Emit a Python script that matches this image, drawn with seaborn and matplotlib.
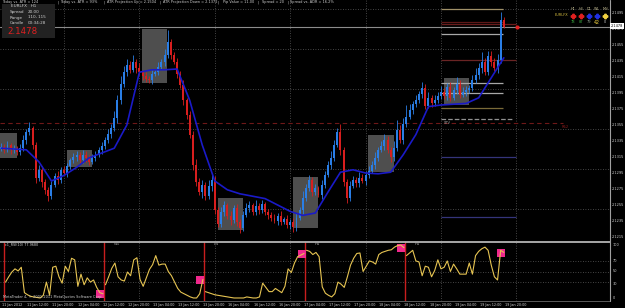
import numpy as np
import matplotlib
matplotlib.use("Agg")
import matplotlib.pyplot as plt
from matplotlib.patches import Rectangle
import seaborn as sns

# ---- data (prices stored as pips above BASE) ----
BASE = 2.12

first_open = 125
close_pips = [
    128, 124, 130, 124, 126, 121, 126, 136, 146, 151,
    130, 89, 99, 84, 74, 66, 80, 91, 86, 99,
    95, 104, 111, 115, 118, 111, 118, 114, 109, 114,
    118, 124, 129, 136, 144, 151, 164, 186, 206, 221,
    230, 224, 234, 226, 221, 216, 212, 211, 219, 221,
    228, 234, 243, 259, 243, 234, 219, 205, 186, 168,
    143, 105, 84, 71, 80, 66, 79, 86, 49, 31,
    46, 55, 41, 36, 51, 34, 26, 43, 51, 55,
    46, 54, 49, 56, 46, 43, 39, 35, 41, 34,
    37, 30, 34, 27, 39, 49, 64, 76, 86, 71,
    76, 68, 80, 93, 105, 114, 130, 146, 124, 84,
    64, 79, 86, 82, 89, 85, 93, 98, 105, 114,
    124, 129, 136, 124, 115, 126, 149, 136, 156, 165,
    174, 181, 186, 194, 201, 179, 189, 183, 186, 191,
    196, 191, 202, 189, 199, 206, 193, 196, 199, 201,
    211, 218, 226, 234, 221, 241, 234, 226, 236, 286,
    278,
]
wick_up = [
    4, 3, 5, 3, 4, 3, 5, 6, 4, 8,
    3, 4, 6, 5, 4, 3, 5, 4, 6, 3,
    5, 4, 3, 5, 4, 3, 6, 4, 3, 5,
    4, 3, 5, 4, 6, 5, 8, 6, 10, 8,
    7, 5, 9, 4, 6, 3, 5, 4, 5, 3,
    6, 4, 7, 15, 4, 3, 5, 4, 6, 3,
    5, 4, 8, 5, 6, 4, 7, 9, 5, 4,
    6, 5, 3, 6, 4, 5, 3, 4, 6, 5,
    3, 7, 4, 5, 3, 4, 3, 5, 4, 6,
    3, 5, 4, 5, 6, 4, 8, 5, 7, 4,
    5, 3, 6, 4, 5, 8, 6, 5, 10, 4,
    3, 6, 5, 4, 7, 5, 4, 6, 5, 7,
    4, 6, 8, 5, 4, 9, 12, 6, 8, 15,
    7, 4, 6, 4, 8, 5, 7, 4, 6, 5,
    8, 5, 6, 7, 4, 9, 5, 6, 5, 4,
    6, 8, 6, 12, 5, 7, 6, 5, 8, 10,
    4,
]
wick_dn = [
    3, 4, 3, 5, 4, 3, 4, 3, 5, 4,
    5, 6, 4, 7, 5, 6, 4, 3, 5, 4,
    3, 5, 4, 3, 5, 4, 3, 5, 4, 3,
    4, 3, 5, 4, 3, 5, 4, 6, 5, 4,
    5, 4, 3, 6, 4, 5, 3, 4, 5, 3,
    4, 3, 5, 4, 6, 3, 5, 4, 6, 5,
    4, 6, 5, 4, 7, 5, 4, 6, 5, 4,
    3, 5, 4, 6, 3, 5, 6, 4, 3, 5,
    4, 3, 5, 4, 3, 5, 4, 3, 5, 4,
    3, 4, 5, 6, 4, 3, 5, 4, 3, 5,
    4, 3, 5, 4, 3, 5, 4, 3, 6, 5,
    7, 4, 3, 5, 4, 3, 5, 4, 3, 5,
    4, 3, 5, 4, 6, 5, 4, 3, 5, 4,
    3, 5, 4, 3, 5, 4, 3, 5, 4, 3,
    4, 3, 5, 4, 3, 5, 4, 3, 5, 4,
    3, 4, 5, 6, 4, 3, 5, 4, 6, 3,
    2,
]

# smoothed moving average, one value every 4 bars
ma_bars = [0, 4, 8, 12, 16, 20, 24, 28, 32, 36, 40, 44, 48, 52, 56, 60, 64, 68, 72, 76,
           80, 84, 88, 92, 96, 100, 104, 108, 112, 116, 120, 124, 128, 132, 136, 140,
           144, 148, 152, 156, 160]
ma_pips = [126, 125, 124, 109, 85, 92, 102, 114, 120, 126, 155, 221, 224, 224, 225, 186,
           130, 85, 74, 69, 66, 63, 55, 47, 42, 45, 71, 96, 99, 95, 94, 96, 118, 143,
           178, 180, 181, 182, 189, 214, 239]

# session boxes (first bar, high, low)
box_start = [-3, 21, 45, 69, 93, 117, 141]
box_top = [145, 124, 275, 64, 90, 143, 214]
box_bot = [114, 103, 207, 24, 26, 96, 180]

# levels on the right side
level_pips = [300, 284, 281, 269, 236, 207, 195, 176, 162, 115, 40]
bid_pips = 278
pivot_pips = 157

day_bars = [20, 44, 68, 92, 116, 140, 164]
time_labels = ["11 Jan 2012", "11 Jan 12:00", "11 Jan 20:00", "12 Jan 04:00", "12 Jan 12:00",
               "12 Jan 20:00", "13 Jan 04:00", "13 Jan 12:00", "13 Jan 20:00", "16 Jan 04:00",
               "16 Jan 12:00", "16 Jan 20:00", "17 Jan 04:00", "17 Jan 12:00", "17 Jan 20:00",
               "18 Jan 04:00", "18 Jan 12:00", "18 Jan 20:00", "19 Jan 04:00", "19 Jan 12:00",
               "19 Jan 20:00"]

# multi-timeframe oscillator, one block per timeframe
tf_names = ["MN", "W1", "D1", "H4", "H1"]
osc_mn = [30, 40, 49, 55, 51, 58, 10, 6, 3, 2, 1, 0, 5, 30, 5, 58,
          60, 40, 28, 60, 50, 75, 72, 22, 45, 25, 38, 30, 34, 20, 10, 8]
osc_w1 = [25, 40, 56, 66, 40, 34, 32, 49, 42, 72, 76, 35, 22, 38, 54, 63,
          80, 62, 64, 64, 50, 42, 30, 18, 11, 8, 5, 2, 0, 0, 8, 35]
osc_d1 = [12, 10, 8, 6, 5, 4, 3, 2, 1, 0, 0, 0, 0, 2, 1, 0,
          0, 2, 28, 20, 12, 12, 18, 14, 10, 22, 55, 48, 66, 78, 81, 84]
osc_h4 = [90, 88, 82, 86, 78, 21, 9, 5, 2, 8, 30, 26, 20, 40, 62, 75,
          84, 85, 50, 60, 70, 68, 64, 82, 86, 88, 90, 91, 96, 99, 100, 95]
osc_h1 = [80, 85, 90, 70, 68, 42, 60, 58, 40, 52, 72, 55, 58, 70, 50, 64,
          55, 45, 45, 45, 66, 45, 80, 88, 93, 96, 90, 62, 40, 34, 90, 86]
seg_edges = [0.89, 32.7, 64.5, 96.7, 128.5, 160.3]

# ---- style ----
W, H = 625, 308
BULL, BEAR = "#2a7ee6", "#d81e1e"
GRID = "#5c5c5c"
TXT = "#d0d0d0"

sns.set_theme(style="dark", rc={"axes.facecolor": "black", "figure.facecolor": "black"})
plt.rcParams["font.family"] = ["DejaVu Sans"]

fig = plt.figure(figsize=(W / 100, H / 100), dpi=100, facecolor="black")
ax = fig.add_axes([0, (H - 241) / H, 610 / W, 241 / H])
axp = fig.add_axes([0, 7 / H, 610 / W, 59 / H])

def P(v):
    return BASE + np.asarray(v, dtype=float) / 1e4

def fx(px):
    return px / W

def fy(py):
    return 1 - py / H

XL = (-0.38, 193.8)

for a in (ax, axp):
    a.set_facecolor("black")
    a.set_xlim(*XL)
    a.grid(False)
    for s in a.spines.values():
        s.set_visible(False)
    a.set_xticks([])
    a.set_yticks([])
    for b in day_bars:
        a.axvline(b, color=GRID, lw=0.6, ls=(0, (1, 2)), zorder=0)

# main chart
ax.set_ylim(P(10), P(311.25))
for g in [50, 100, 150, 200, 250, 300]:
    ax.axhline(P(g), color=GRID, lw=0.6, ls=(0, (1, 2)), zorder=0)

for s, t, b in zip(box_start, box_top, box_bot):
    ax.add_patch(Rectangle((s - 0.1, P(b)), 8, P(t) - P(b), facecolor="#4e4e4e",
                           edgecolor="none", zorder=1))

c = np.array(close_pips, dtype=float)
o = np.concatenate([[first_open], c[:-1]])
hi = np.maximum(o, c) + np.array(wick_up)
lo = np.minimum(o, c) - np.array(wick_dn)
xb = np.arange(len(c))
cols = np.where(c >= o, BULL, BEAR)
ax.vlines(xb, P(lo), P(hi), colors=cols, lw=0.6, zorder=3)
ax.bar(xb, np.maximum(np.abs(c - o), 0.8) / 1e4, bottom=P(np.minimum(o, c)), width=0.62,
       color=cols, linewidth=0, zorder=3)

sns.lineplot(x=ma_bars, y=P(ma_pips), ax=ax, color="#1a1ac8", linewidth=1.2, zorder=4,
             legend=False)
ax.set_xlabel("")
ax.set_ylabel("")

# right-side levels
lvl_style = [("#a09068", 159.7, "-"), ("#5e1818", 159.7, "-"), ("#6a1c1c", 163.9, "-"),
             ("#a8a8a8", 159.7, "-"), ("#6a2424", 163.9, "-"), ("#a8a8a8", 159.7, "-"),
             ("#a8a8a8", 159.7, "-"), ("#7a6a38", 159.7, "-"), ("#909090", 162.9, "--"),
             ("#34347a", 163.9, "-"), ("#34347a", 163.9, "-")]
for v, (col, end, ls) in zip(level_pips, lvl_style):
    ax.hlines(P(v), 140, end, colors=col, lw=0.9, linestyles=ls, zorder=2)
ax.axhline(P(bid_pips), color="#8c8c8c", lw=0.8, zorder=2)
ax.hlines(P(pivot_pips), XL[0], 178.8, colors="#6e1818", lw=0.8, linestyles=(0, (4, 3)), zorder=2)
ax.text(141, P(level_pips[8] - 2), "STV", color="#a0a0a0", fontsize=2.6, va="top")
ax.text(178.4, P(pivot_pips - 1.5), "R52", color="#8b1a1a", fontsize=2.6, va="top")
ax.scatter([164.2], [P(bid_pips)], marker="o", s=4, color="#e02020", zorder=5)

# price scale on the right
for v in range(295, 10, -20):
    fig.text(fx(612), fy((311.25 - v) / 1.25), f"{BASE + v / 1e4:.4f}", color=TXT,
             fontsize=2.5, va="center")
fig.text(fx(611), fy(26), f"{BASE + bid_pips / 1e4:.4f}", color="black", fontsize=2.5,
         va="center", bbox=dict(boxstyle="square,pad=0.15", fc="white", ec="none"))
fig.add_artist(plt.Line2D([fx(610), fx(610)], [fy(0), fy(301)], color="#a0a0a0", lw=0.8))

# indicator panel
axp.set_ylim(-5.7, 105.7)
for g in [30, 50, 70]:
    axp.axhline(g, color=GRID, lw=0.6, ls=(0, (1, 2)), zorder=0)
axp.spines["top"].set_visible(True)
axp.spines["top"].set_color("#b4b4b4")
axp.spines["top"].set_linewidth(1.3)
axp.spines["bottom"].set_visible(True)
axp.spines["bottom"].set_color("#6a6a6a")
axp.spines["bottom"].set_linewidth(0.6)

for k, vals in enumerate([osc_mn, osc_w1, osc_d1, osc_h4, osc_h1]):
    xs = np.linspace(seg_edges[k] + 0.5, seg_edges[k + 1] - 0.3, len(vals))
    axp.axvline(seg_edges[k], color="#c81e1e", lw=1.0, zorder=1)
    axp.scatter([xs[-1] - 0.8], [vals[-1] - 1], marker="s", s=30, color="#f0288c",
                linewidths=0, zorder=2)
    sns.lineplot(x=xs, y=vals, ax=axp, color="#e6c452", linewidth=0.8, zorder=3, legend=False)
    if k > 0:
        axp.text(seg_edges[k] + 3.2, 101, tf_names[k], color="#a8a8a8", fontsize=2.7,
                 va="center")
axp.set_xlabel("")
axp.set_ylabel("")

axp.text(1.2, 101, "c1_RSI(10) 77.9680", color=TXT, fontsize=2.4, va="center")
axp.text(0.6, 2, "MetaTrader 4, \u00a9 2001-2011 MetaQuotes Software Corp.", color=TXT,
         fontsize=2.5, va="center", zorder=4)

for v, yp in zip([100, 70, 50, 30, 0], [245, 261, 271, 284, 298]):
    fig.text(fx(613), fy(yp), str(v), color=TXT, fontsize=2.5, va="center")

for k, lab in enumerate(time_labels):
    xp = 1.2 + 3.142 * 8 * k
    fig.text(fx(xp + 1), fy(305), lab, color=TXT, fontsize=2.4, va="center")

# top info bar
info = [(2, "Today vs. ATR = 124"), (57, "|"), (60, "Today vs. ATR = 93%"), (104, "|"),
        (107, "ATR Projection Up = 2.1504"), (159, "|"), (163, "ATR Projection Down = 2.1372"),
        (218, "|"), (223, "Pip Value = 11.00"), (258, "|"), (262, "Spread = 20"), (287, "|"),
        (290, "Spread vs. ADR = 16.2%")]
for xp, s in info:
    fig.text(fx(xp), fy(2.5), s, color=TXT, fontsize=2.5, va="center")

# info box top-left
fig.add_artist(Rectangle((fx(2), fy(38)), fx(53), 34 / H, transform=fig.transFigure,
                         facecolor="#222222", edgecolor="none", zorder=5))
fig.text(fx(11), fy(6), "EURLFX   H1", color=TXT, fontsize=3, va="center", zorder=6)
for yp, lab, val in [(12, "Spread", "20.00"), (17.5, "Range", "110, 115"),
                     (23, "Candle", "00:34:28")]:
    fig.text(fx(10), fy(yp), lab, color=TXT, fontsize=3, va="center", zorder=6)
    fig.text(fx(28), fy(yp), val, color=TXT, fontsize=3, va="center", zorder=6)
fig.text(fx(7), fy(31.5), f"{BASE + close_pips[-1] / 1e4:.4f}", color="#e02020", fontsize=6.2,
         va="center", zorder=6)

# trend matrix top-right
mx = [573, 581, 589, 597, 605]
for xp, nm in zip(mx, ["H1", "H4", "D1", "W1", "MN"]):
    fig.text(fx(xp), fy(9.5), nm, color="#c8c096", fontsize=2.4, va="center", ha="center")
fig.text(fx(568), fy(15.5), "EURLFX", color="#d8c040", fontsize=2.5, va="center", ha="right")
for xp, col in zip(mx, ["#e02020", "#e02020", "#2030e0", "#2030e0", "#f0d040"]):
    fig.add_artist(plt.Line2D([fx(xp)], [fy(15.5)], marker="P", markersize=3.2, color=col,
                              linestyle="none"))
for xp, val, col, fs in zip(mx, ["78", "87", "79", "42", "0"],
                            ["#3cb043", "#3cb043", "#8a9a8a", "#f0d040", "#d0d0d0"],
                            [2.6, 2.6, 2.6, 3.4, 2.4]):
    fig.text(fx(xp), fy(22), val, color=col, fontsize=fs, va="center", ha="center")

fig.savefig("out.png", dpi=100, facecolor="black")
